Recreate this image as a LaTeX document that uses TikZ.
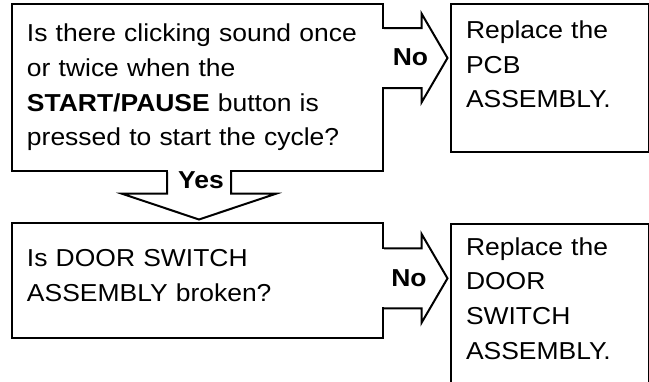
\documentclass[tikz,border=0pt]{standalone}
\usepackage{fontspec}
\setmainfont{Liberation Sans}[FakeStretch=1.08]
\usetikzlibrary{calc}

\begin{document}
\begin{tikzpicture}[
    x=1pt, y=-1pt,
    line width=2pt,
    every node/.style={font=\fontsize{24.5}{34.7}\selectfont},
    box/.style={draw,inner sep=0pt,anchor=north west},
    txt/.style={inner sep=0pt,anchor=base west,align=left},
    lbl/.style={inner sep=0pt,font=\fontsize{24.5}{34.7}\selectfont\bfseries},
    blk/.style={line join=miter}
  ]
  \useasboundingbox (0,0) rectangle (649,381);

  % boxes
  \node[box,minimum width=371,minimum height=167] (q1) at (11,3) {};
  \node[box,minimum width=198,minimum height=147.7] (r1) at (450,3) {};
  \node[box,minimum width=371,minimum height=114.7] (q2) at (11,222) {};
  \node[box,minimum width=198,minimum height=175] (r2) at (450,222.7) {};

  \node[txt,text width=345] (q1t) at ($(q1.north west)+(15,38.7)$)
    {Is there clicking sound once\\or twice when the\\\textbf{START/PAUSE} button is\\pressed to start the cycle?};
  \node[txt,text width=175] (r1t) at ($(r1.north west)+(15,35.3)$)
    {Replace the\\PCB\\ASSEMBLY.};
  \node[txt,text width=345] (q2t) at ($(q2.north west)+(15,44.7)$)
    {Is DOOR SWITCH\\ASSEMBLY broken?};
  \node[txt,text width=175] (r2t) at ($(r2.north west)+(15,32.3)$)
    {Replace the\\DOOR\\SWITCH\\ASSEMBLY.};

  % block arrows
  \coordinate (m1) at ($(q1.north east)+(0,55)$);
  \fill[white] ($(m1)+(-2,-29)$) rectangle ($(m1)+(2,29)$);
  \draw[blk] ($(m1)+(0,-30)$) -- ++(37.5,0) -- ++(0,-14.5)
    -- ($(r1.west|-m1)+(-2.5,0)$) -- ($(m1)+(37.5,44.5)$) -- ++(0,-14.5)
    -- ($(m1)+(0,30)$);
  \node[lbl] (no1) at ($(m1)+(26.5,-1)$) {No};

  \coordinate (m2) at ($(q2.east)+(0,-2)$);
  \fill[white] ($(m2)+(-2,-29)$) rectangle ($(m2)+(2,29)$);
  \draw[blk] ($(m2)+(0,-30)$) -- ++(37.5,0) -- ++(0,-14.5)
    -- ($(r2.west|-m2)+(-2.5,0)$) -- ($(m2)+(37.5,44.5)$) -- ++(0,-14.5)
    -- ($(m2)+(0,30)$);
  \node[lbl] (no2) at ($(m2)+(25,-0.5)$) {No};

  \coordinate (m3) at ($(q1.south)+(1.5,0)$);
  \fill[white] ($(m3)+(-31,-2)$) rectangle ($(m3)+(31,2)$);
  \draw[blk] ($(m3)+(-32,0)$) -- ++(0,21.7) -- ++(-45,0)
    -- ($(q2.north-|m3)+(0,-2.5)$) -- ($(m3)+(77,21.7)$) -- ++(-45,0)
    -- ($(m3)+(32,0)$);
  \node[lbl] (yes) at ($(m3)+(2,8)$) {Yes};
\end{tikzpicture}
\end{document}
